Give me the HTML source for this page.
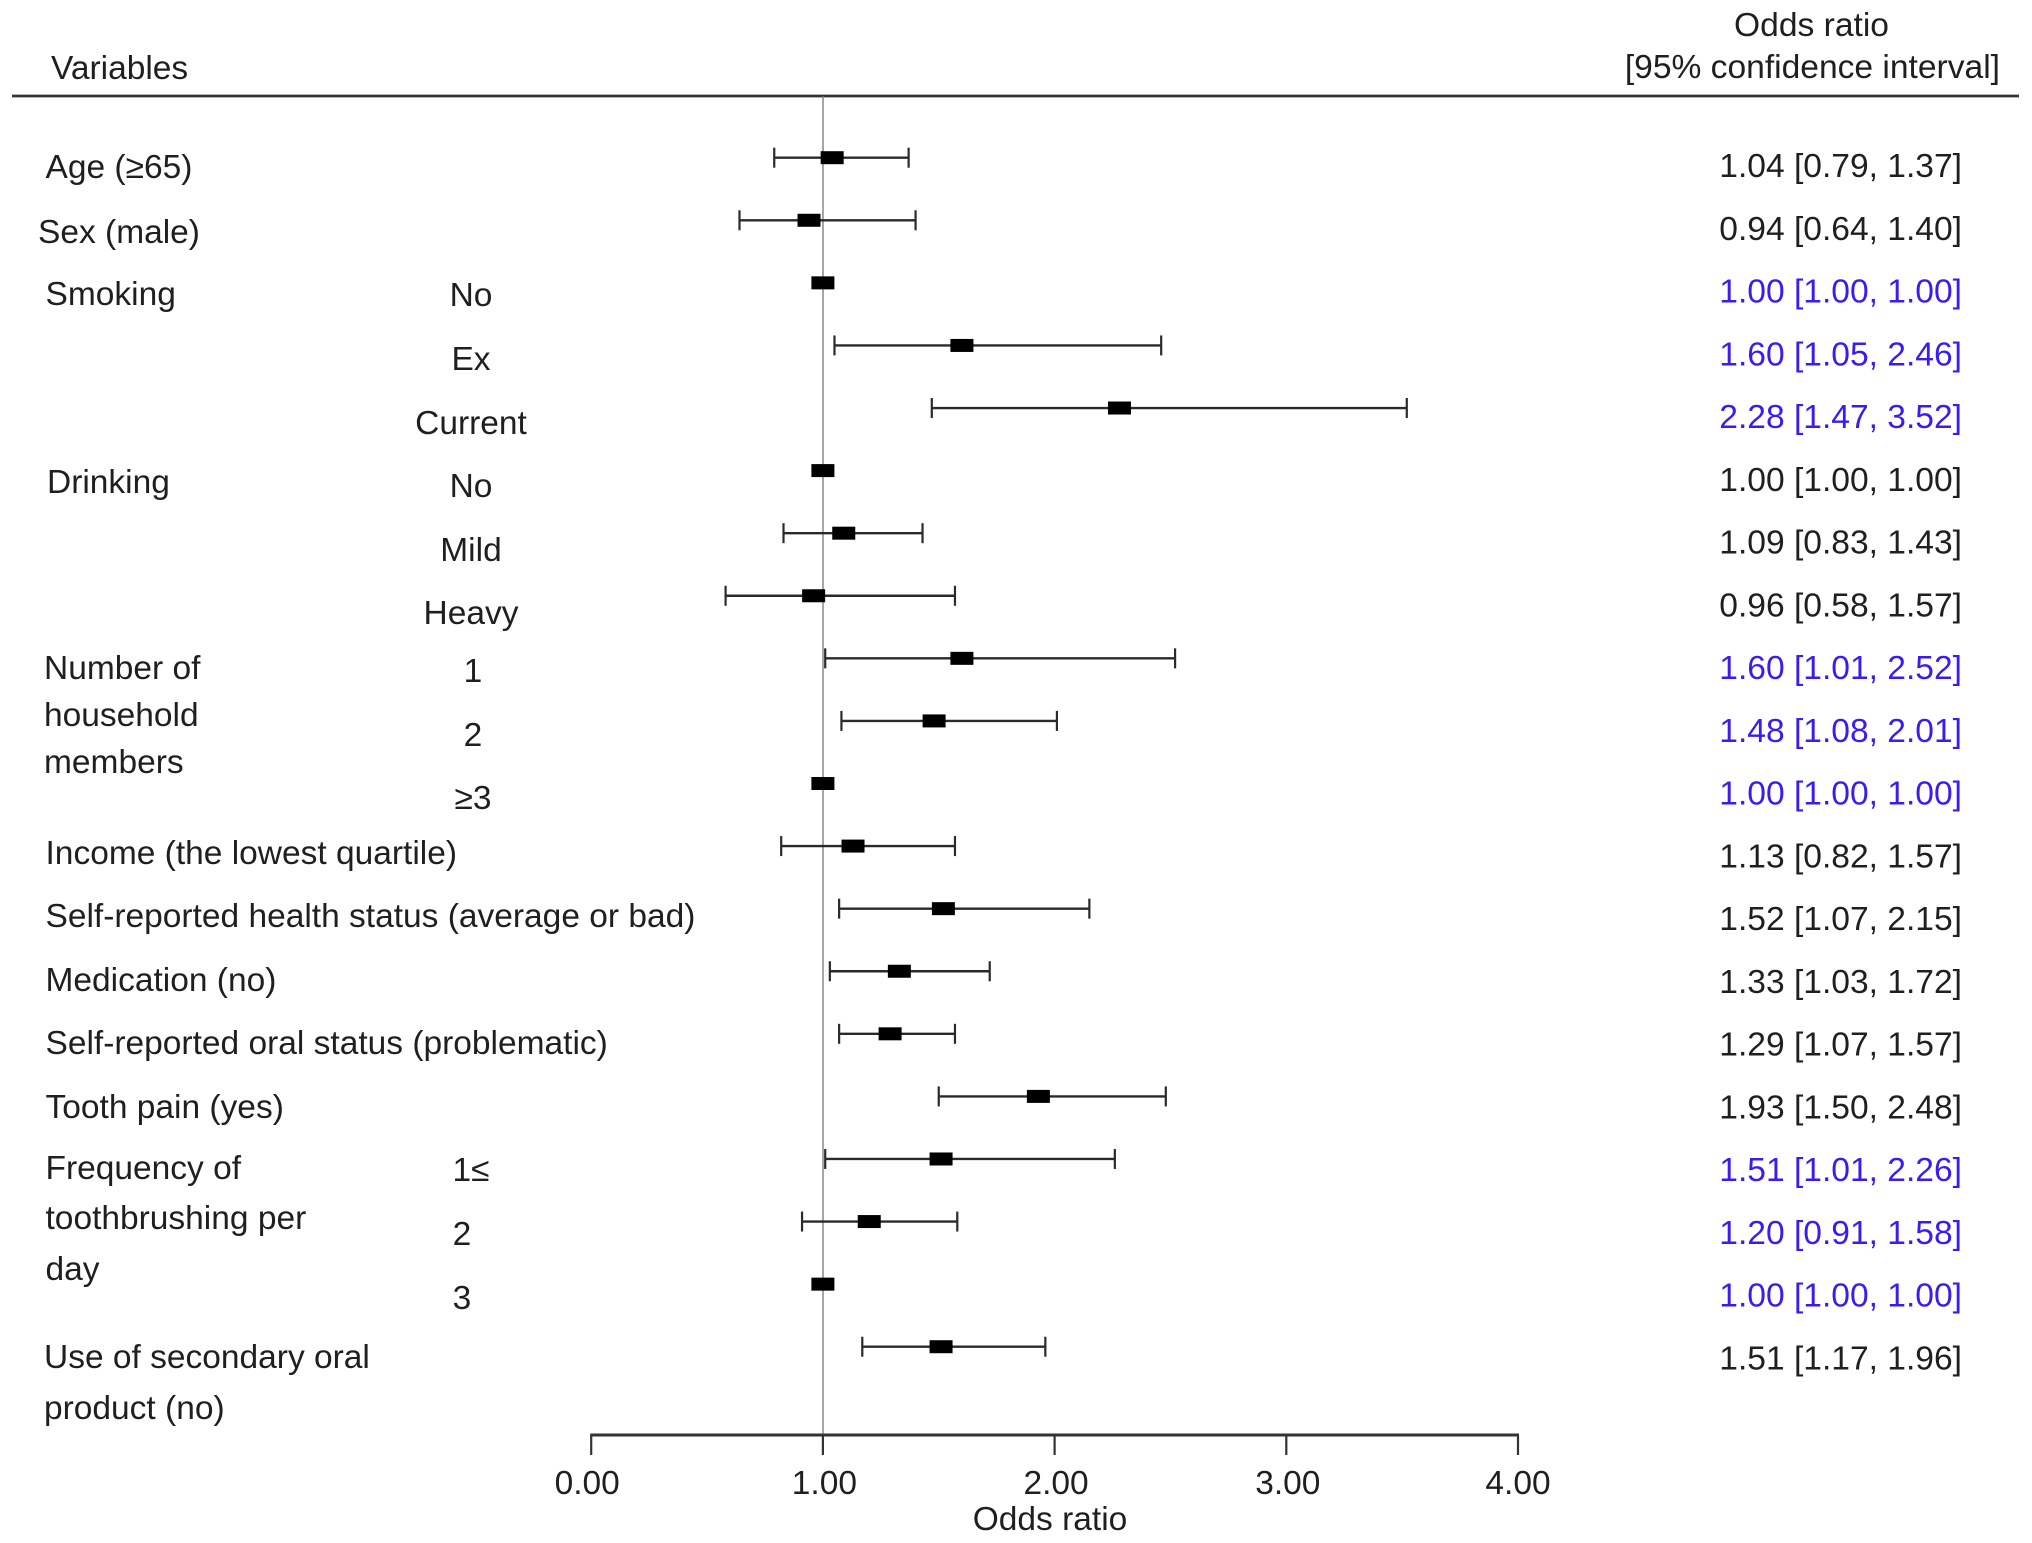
<!DOCTYPE html>
<html lang="en">
<head>
<meta charset="utf-8">
<title>Odds ratio forest plot</title>
<style>
  html, body { margin: 0; padding: 0; background: #fff; }
  svg { display: block; }
  text { font-family: "Liberation Sans", "DejaVu Sans", sans-serif; font-size: 33.5px; fill: #1f1f1f; }
  .val { font-size: 33.6px; }
</style>
</head>
<body>
<svg id="chart" xmlns="http://www.w3.org/2000/svg" width="2032" height="1543" viewBox="0 0 2032 1543">
  <rect x="0" y="0" width="2032" height="1543" fill="#fff"/>
  <g>
    <text x="51" y="79">Variables</text>
    <text class="val" x="1811.5" y="36" text-anchor="middle">Odds ratio</text>
    <text class="val" x="2000" y="78" text-anchor="end">[95% confidence interval]</text>
    <line x1="12" y1="96" x2="2019" y2="96" stroke="#333" stroke-width="2.8"/>
  </g>
  <g>
    <text x="45.5" y="178">Age (≥65)</text>
    <text x="38" y="243">Sex (male)</text>
    <text x="45.5" y="305">Smoking</text>
    <text x="47" y="493">Drinking</text>
    <text x="44" y="679">Number of</text>
    <text x="44" y="726">household</text>
    <text x="44" y="773">members</text>
    <text x="45.5" y="864">Income (the lowest quartile)</text>
    <text x="45.5" y="927">Self-reported health status (average or bad)</text>
    <text x="45.5" y="991">Medication (no)</text>
    <text x="45.5" y="1054">Self-reported oral status (problematic)</text>
    <text x="45.5" y="1118">Tooth pain (yes)</text>
    <text x="45.5" y="1179">Frequency of</text>
    <text x="45.5" y="1229">toothbrushing per</text>
    <text x="45.5" y="1280">day</text>
    <text x="44" y="1368">Use of secondary oral</text>
    <text x="44" y="1419">product (no)</text>
  </g>
  <g text-anchor="middle">
    <text x="471" y="306">No</text>
    <text x="471" y="370">Ex</text>
    <text x="471" y="434">Current</text>
    <text x="471" y="497">No</text>
    <text x="471" y="561">Mild</text>
    <text x="471" y="624">Heavy</text>
    <text x="473" y="682">1</text>
    <text x="473" y="746">2</text>
    <text x="473" y="809">≥3</text>
    <text x="471" y="1181">1≤</text>
    <text x="462" y="1245">2</text>
    <text x="462" y="1309">3</text>
  </g>
  <line x1="823" y1="96" x2="823" y2="1435" stroke="#777" stroke-width="1.3"/>
  <g id="marks"></g>
  <g id="values"></g>
  <g id="axis"></g>
  <text x="1050" y="1530" text-anchor="middle">Odds ratio</text>
</svg>
<script>
const rowNames = ["age", "sex", "smoking-no", "smoking-ex", "smoking-current", "drinking-no", "drinking-mild", "drinking-heavy", "household-1", "household-2", "household-3", "income", "health-status", "medication", "oral-status", "tooth-pain", "brushing-1", "brushing-2", "brushing-3", "secondary-product"];
const oddsRatios = [1.04, 0.94, 1.00, 1.60, 2.28, 1.00, 1.09, 0.96, 1.60, 1.48, 1.00, 1.13, 1.52, 1.33, 1.29, 1.93, 1.51, 1.20, 1.00, 1.51];
const ciLower = [0.79, 0.64, 1.00, 1.05, 1.47, 1.00, 0.83, 0.58, 1.01, 1.08, 1.00, 0.82, 1.07, 1.03, 1.07, 1.50, 1.01, 0.91, 1.00, 1.17];
const ciUpper = [1.37, 1.40, 1.00, 2.46, 3.52, 1.00, 1.43, 1.57, 2.52, 2.01, 1.00, 1.57, 2.15, 1.72, 1.57, 2.48, 2.26, 1.58, 1.00, 1.96];
const highlightedRows = [false, false, true, true, true, false, false, false, true, true, true, false, false, false, false, false, true, true, true, false];
const tickValues = [0, 1, 2, 3, 4];

const SVG_NS = "http://www.w3.org/2000/svg";
const xScale = v => 591.2 + v * 231.7;
const markY = i => 157.7 + i * 62.58;
const valueY = i => 177 + i * 62.75;

function makeNode(tag, attrs, parent) {
  const el = document.createElementNS(SVG_NS, tag);
  Object.keys(attrs).forEach(k => el.setAttribute(k, attrs[k]));
  parent.appendChild(el);
  return el;
}

const marks = document.getElementById("marks");
const values = document.getElementById("values");
const axis = document.getElementById("axis");

oddsRatios.forEach((or, i) => {
  const y = markY(i);
  const lo = xScale(ciLower[i]);
  const hi = xScale(ciUpper[i]);
  const row = makeNode("g", {}, marks);
  
  

  const whisker = makeNode("line", { x1: lo, x2: hi, y1: y, y2: y, stroke: "#2a2a2a", "stroke-width": 2.4 }, row);
  
  

  if (hi - lo > 0) {
    const capLo = makeNode("line", { x1: lo, x2: lo, y1: y - 10, y2: y + 10, stroke: "#2a2a2a", "stroke-width": 2.2 }, row);
    
    
    const capHi = makeNode("line", { x1: hi, x2: hi, y1: y - 10, y2: y + 10, stroke: "#2a2a2a", "stroke-width": 2.2 }, row);
    
    
  }

  const box = makeNode("rect", { x: xScale(or) - 11.5, y: y - 6.5, width: 23, height: 13, fill: "#000" }, row);
  
  

  const label = makeNode("text", { x: 1962, y: valueY(i), "text-anchor": "end", class: "val" }, values);
  
  
  label.style.fill = highlightedRows[i] ? "#3a1cf0" : "#1f1f1f";
  label.textContent = or.toFixed(2) + " [" + ciLower[i].toFixed(2) + ", " + ciUpper[i].toFixed(2) + "]";
});

const axisLine = makeNode("line", { x1: xScale(tickValues[0]) - 1, x2: xScale(tickValues[tickValues.length - 1]) + 1, y1: 1435, y2: 1435, stroke: "#333", "stroke-width": 3 }, axis);



tickValues.forEach(t => {
  const x = xScale(t);
  const tick = makeNode("line", { x1: x, x2: x, y1: 1435, y2: 1455, stroke: "#333", "stroke-width": 2.2 }, axis);
  
  
  const label = makeNode("text", { x: x + (t === 0 ? -4 : t === 4 ? 0 : 1.5), y: 1494, "text-anchor": "middle" }, axis);
  
  
  label.textContent = t.toFixed(2);
});
</script>
</body>
</html>
